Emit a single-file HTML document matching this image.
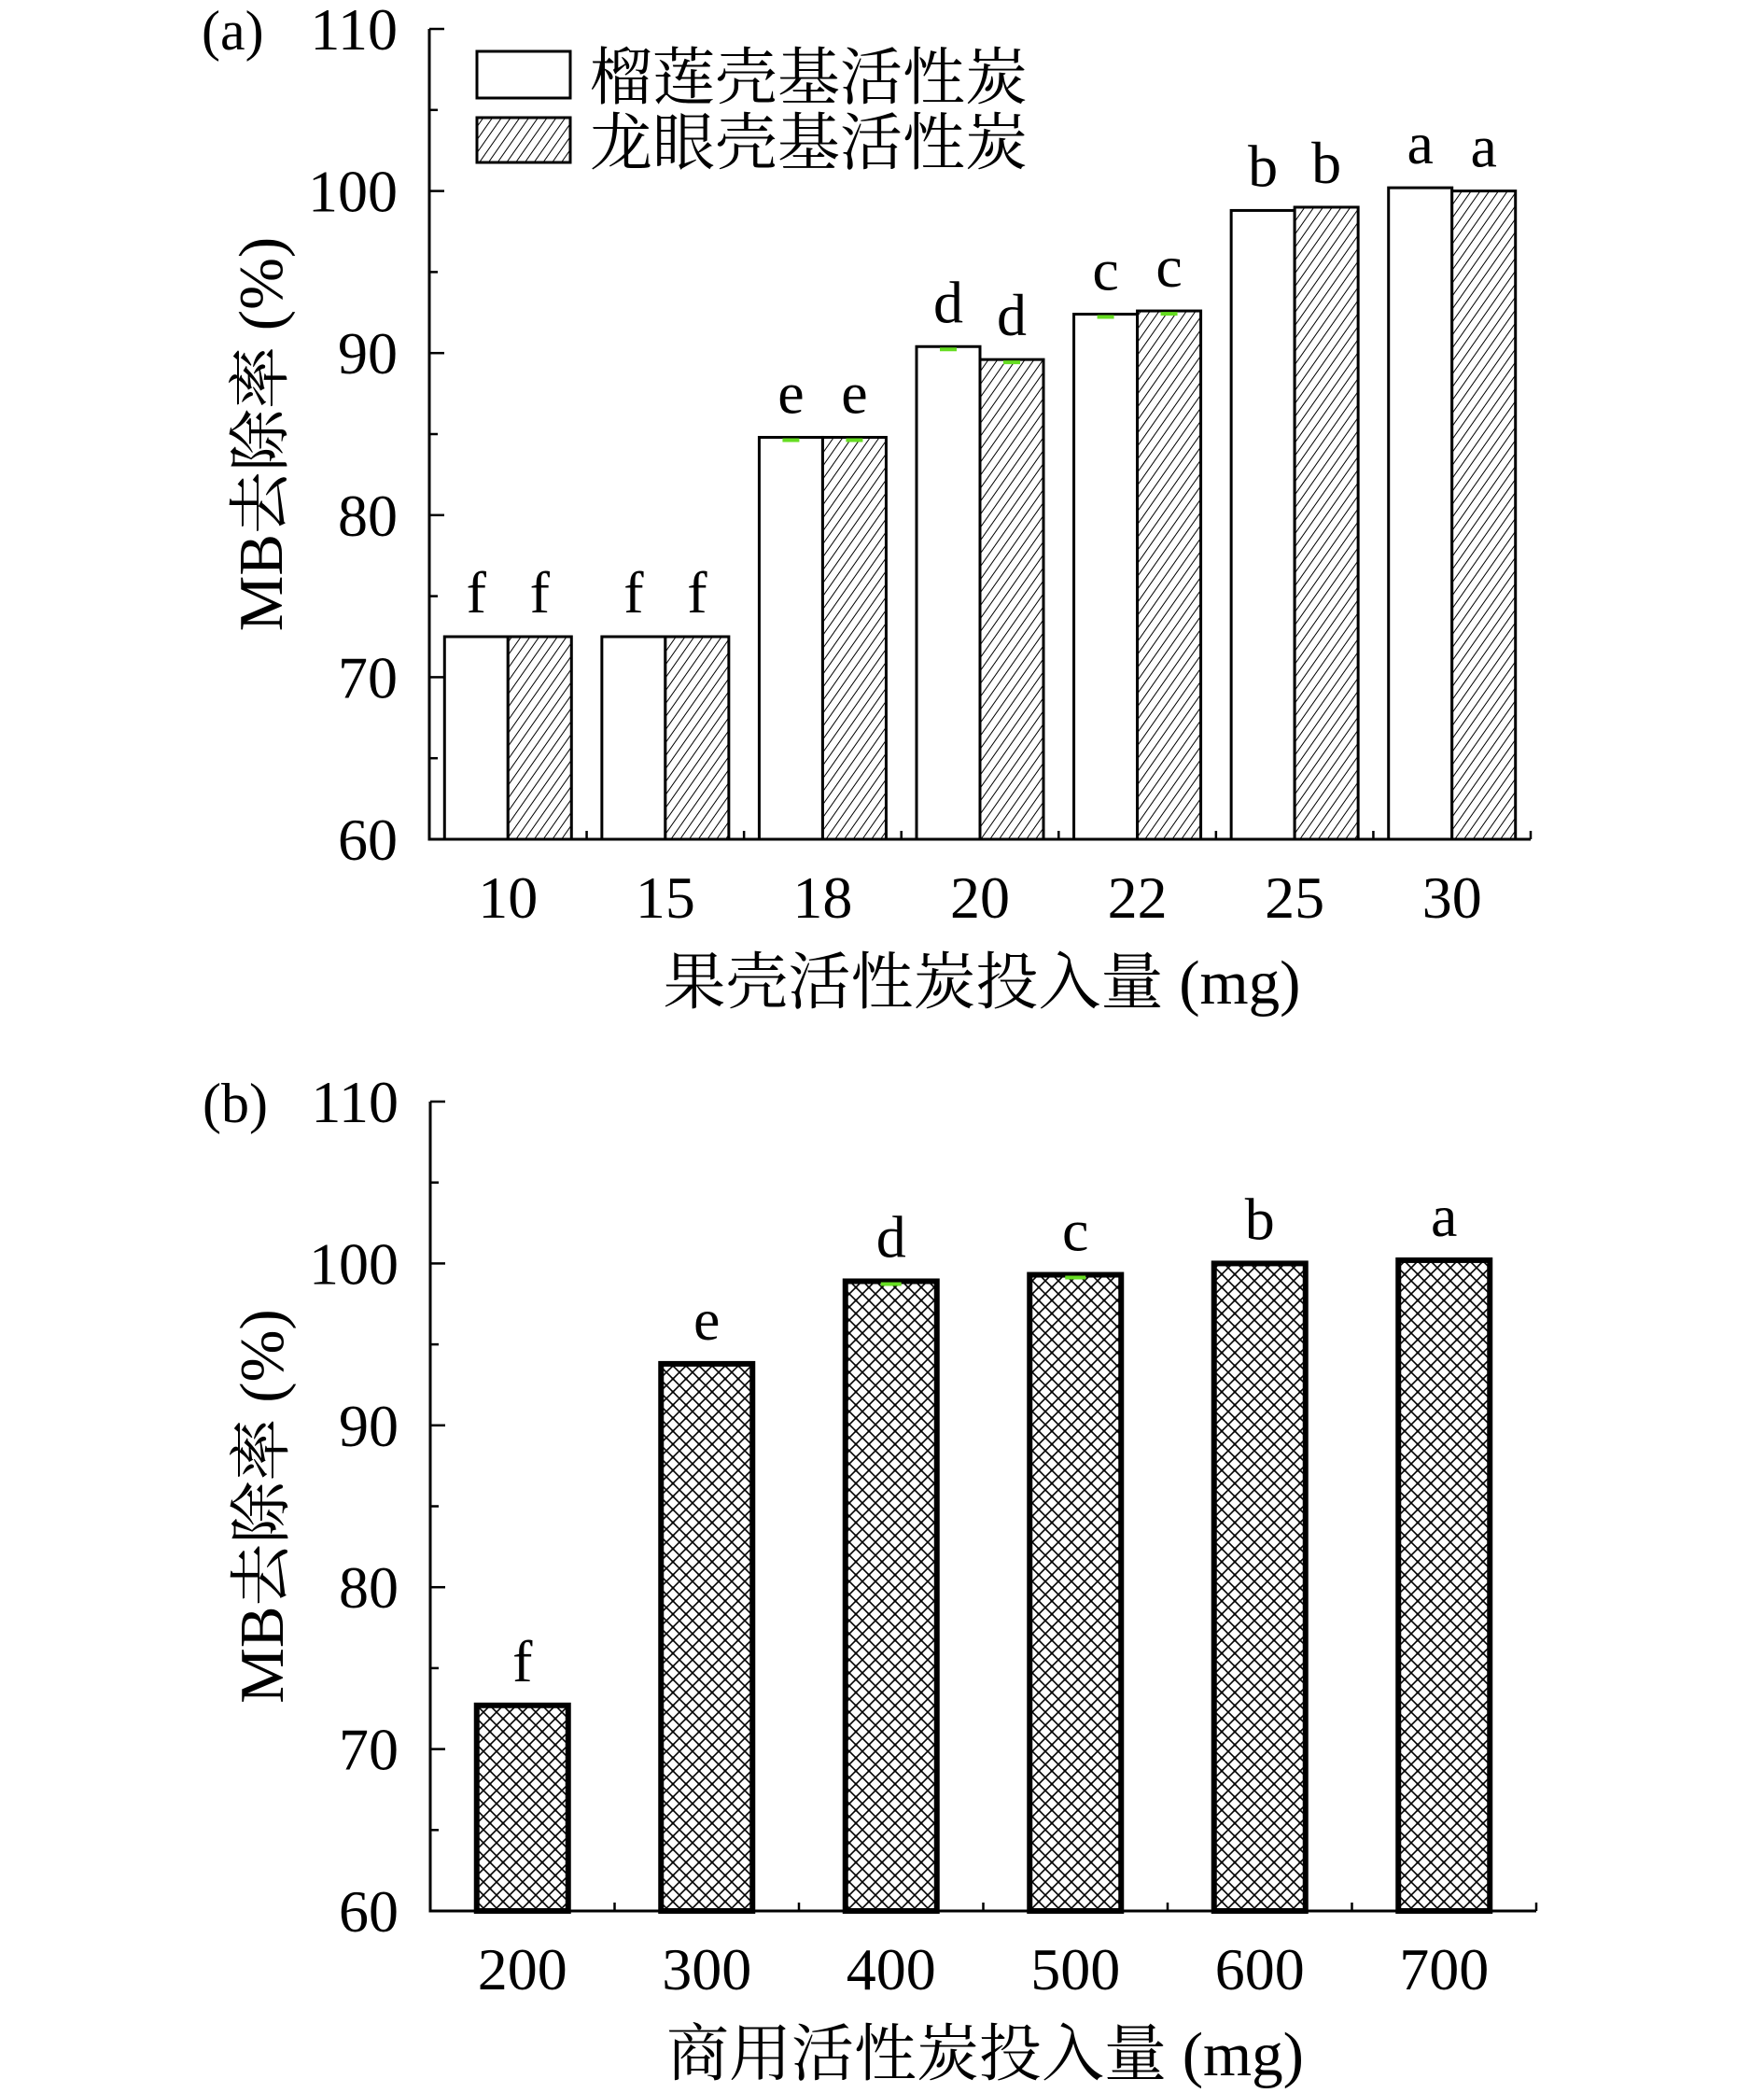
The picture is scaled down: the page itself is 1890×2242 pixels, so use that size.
<!DOCTYPE html>
<html><head><meta charset="utf-8">
<style>
html,body{margin:0;padding:0;background:#fff;}
svg text{font-family:"Liberation Serif","Noto Serif CJK SC",serif;fill:#000;}
</style></head>
<body>
<svg id="chart" width="1890" height="2237" viewBox="0 0 1890 2237" xmlns="http://www.w3.org/2000/svg">
<defs>
<pattern id="hatch" patternUnits="userSpaceOnUse" width="8" height="8" patternTransform="rotate(35)">
<rect width="8" height="8" fill="#fff"/><line x1="0" y1="0" x2="0" y2="8" stroke="#000" stroke-width="2"/>
</pattern>
<pattern id="cross" patternUnits="userSpaceOnUse" width="14" height="14">
<rect width="14" height="14" fill="#fff"/>
<path d="M0 0 L14 14 M14 0 L0 14" stroke="#000" stroke-width="1.6"/>
<rect x="5.5" y="5.5" width="3" height="3" fill="#000"/>
</pattern>
</defs>
<g id="pa"></g>
<g id="pb"></g>
</svg>
<script>
const catsA = ["10","15","18","20","22","25","30"];
const durianVals = [72.5,72.5,84.8,90.4,92.4,98.8,100.2];
const longanVals = [72.5,72.5,84.8,89.6,92.6,99.0,100.0];
const durianLetters = ["f","f","e","d","c","b","a"];
const longanLetters = ["f","f","e","d","c","b","a"];
const catsB = ["200","300","400","500","600","700"];
const commVals = [72.7,93.8,98.9,99.3,100.0,100.2];
const commLetters = ["f","e","d","c","b","a"];
const yTicks = [60,70,80,90,100,110];

const NS="http://www.w3.org/2000/svg";
function mk(parent,tag,attrs,text){const e=document.createElementNS(NS,tag);for(const k in attrs)e.setAttribute(k,attrs[k]);if(text!==undefined)e.textContent=text;parent.appendChild(e);return e;}

function axes(g,x0,x1,yTop,yBot,n,xcats,xtitle,ytitle,panel){
  const y=v=>yBot-(v-60)/50*(yBot-yTop);
  const ax=mk(g,'path',{d:`M${x0} ${yTop} L${x0} ${yBot} L${x1} ${yBot}`,stroke:'#000','stroke-width':3,fill:'none'});
  
  
  for(let v=60;v<=110;v+=5){
    const major=v%10===0;
    const t=mk(g,'line',{x1:x0,x2:x0+(major?16:9),y1:y(v),y2:y(v),stroke:'#000','stroke-width':2.5});
    
    
  }
  yTicks.forEach(v=>{
    const t=mk(g,'text',{x:x0-34,y:y(v)+22,'font-size':64,'text-anchor':'end'},String(v));
    
    
  });
  const step=(x1-x0)/n;
  for(let i=1;i<=n;i++){
    const t=mk(g,'line',{x1:x0+i*step,x2:x0+i*step,y1:yBot,y2:yBot-9,stroke:'#000','stroke-width':2.5});
    
    
  }
  xcats.forEach((c,i)=>{
    const t=mk(g,'text',{x:x0+(i+0.5)*step,y:yBot+84,'font-size':64,'text-anchor':'middle'},c);
    
    
  });
  const xt=mk(g,'text',{x:(x0+x1)/2+2,y:yBot+176,'font-size':67,'text-anchor':'middle'},xtitle);
  
  
  const cy=(yTop+yBot)/2;
  const yt=mk(g,'text',{x:0,y:0,'font-size':67,'text-anchor':'middle',transform:`translate(${x0-158},${cy}) rotate(-90)`},ytitle);
  
  
  const pl=mk(g,'text',{x:x0-244,y:yTop+22,'font-size':60},panel);
  
  
  return {y,step};
}
function errMark(g,cx,yy,w){
  const e=mk(g,'line',{x1:cx-w/2,x2:cx+w/2,y1:yy+3,y2:yy+3,stroke:'#66dd22','stroke-width':4});
  
  
}

// Chart A
(function(){
  const g=document.getElementById('pa');
  const x0=460,x1=1640,yTop=31,yBot=899;
  const {y,step}=axes(g,x0,x1,yTop,yBot,catsA.length,catsA,"果壳活性炭投入量 (mg)","MB去除率 (%)","(a)");
  const bw=68;
  catsA.forEach((c,i)=>{
    const cx=x0+(i+0.5)*step;
    const b1=mk(g,'rect',{x:cx-bw,y:y(durianVals[i]),width:bw,height:yBot-y(durianVals[i]),fill:'#fff',stroke:'#000','stroke-width':3});
    
    
    const b2=mk(g,'rect',{x:cx,y:y(longanVals[i]),width:bw,height:yBot-y(longanVals[i]),fill:'url(#hatch)',stroke:'#000','stroke-width':3});
    
    
    if(i>=2&&i<=4){errMark(g,cx-bw/2,y(durianVals[i]),18);errMark(g,cx+bw/2,y(longanVals[i]),18);}
    const l1=mk(g,'text',{x:cx-bw/2,y:y(durianVals[i])-26,'font-size':64,'text-anchor':'middle'},durianLetters[i]);
    
    
    const l2=mk(g,'text',{x:cx+bw/2,y:y(longanVals[i])-26,'font-size':64,'text-anchor':'middle'},longanLetters[i]);
    
    
  });
  const lg=mk(g,'g',{});
  
  
  const r1=mk(lg,'rect',{x:511,y:55,width:100,height:50,fill:'#fff',stroke:'#000','stroke-width':3});
  
  
  const t1=mk(lg,'text',{x:632,y:106,'font-size':67},"榴莲壳基活性炭");
  
  
  const r2=mk(lg,'rect',{x:511,y:126,width:100,height:48,fill:'url(#hatch)',stroke:'#000','stroke-width':3});
  
  
  const t2=mk(lg,'text',{x:632,y:176,'font-size':67},"龙眼壳基活性炭");
  
  
})();

// Chart B
(function(){
  const g=document.getElementById('pb');
  const x0=461,x1=1646,yTop=1180,yBot=2047;
  const {y,step}=axes(g,x0,x1,yTop,yBot,catsB.length,catsB,"商用活性炭投入量 (mg)","MB去除率 (%)","(b)");
  const bw=98;
  catsB.forEach((c,i)=>{
    const cx=x0+(i+0.5)*step;
    const b=mk(g,'rect',{x:cx-bw/2,y:y(commVals[i]),width:bw,height:yBot-y(commVals[i]),fill:'url(#cross)',stroke:'#000','stroke-width':6});
    
    
    if(i===2||i===3) errMark(g,cx,y(commVals[i]),22);
    const l=mk(g,'text',{x:cx,y:y(commVals[i])-26,'font-size':64,'text-anchor':'middle'},commLetters[i]);
    
    
  });
})();
</script>
</body></html>
